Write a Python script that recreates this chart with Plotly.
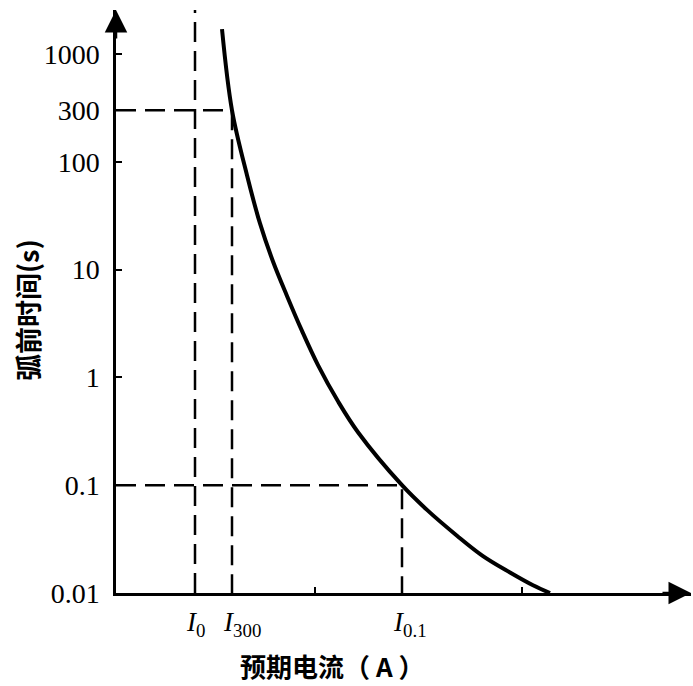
import plotly.graph_objects as go

# prospective current (arbitrary linear units) vs pre-arcing time (s)
current = [106, 116, 131, 144, 157, 171, 186, 202, 222, 242, 286, 311, 341, 367, 394, 417, 434]
prearc_time = [1700, 300, 75, 26.8, 11.9, 5.7, 2.7, 1.3, 0.6, 0.31, 0.1,
               0.059, 0.034, 0.022, 0.0155, 0.0118, 0.01]

# marked currents
I0 = 79
I300 = 116
I01 = 286
extra_ticks = [199, 406]

ytick_vals = [1000, 300, 100, 10, 1, 0.1, 0.01]
ytick_text = ["1000", "300", "100", "10", "1", "0.1", "0.01"]

X_MAX = 575
Y_LOG_MIN, Y_LOG_MAX = -2, 3.408

dash = "20px,9px"
fig = go.Figure()

# the time-current curve
fig.add_trace(go.Scatter(x=current, y=prearc_time, mode="lines",
                         line=dict(color="black", width=4, shape="spline", smoothing=1.0),
                         cliponaxis=False, hoverinfo="skip"))

# dashed guides
fig.add_trace(go.Scatter(x=[0, I300, I300], y=[300, 300, 0.01], mode="lines",
                         line=dict(color="black", width=2.5, dash=dash), hoverinfo="skip"))
fig.add_trace(go.Scatter(x=[0, I01, I01], y=[0.1, 0.1, 0.01], mode="lines",
                         line=dict(color="black", width=2.5, dash=dash), hoverinfo="skip"))
fig.add_shape(type="line", xref="x", yref="paper", x0=I0, x1=I0, y0=0, y1=1,
              line=dict(color="black", width=2.5, dash=dash))

# x labels I0, I300, I0.1
serif = "Liberation Serif"
for xv, sub in [(I0, "0"), (I300, "300"), (I01, "0.1")]:
    fig.add_annotation(x=xv, y=0, xref="x", yref="paper", xanchor="left", yanchor="top",
                       xshift=-11, yshift=-12, showarrow=False,
                       text="<i>I</i><sub>" + sub + "</sub>",
                       font=dict(family=serif, size=27, color="black"))

# axis arrows
fig.add_annotation(x=X_MAX, y=Y_LOG_MIN, xref="x", yref="y", ax=-30, ay=0, text="",
                   showarrow=True, arrowhead=2, arrowsize=1.8, arrowwidth=2.5,
                   arrowcolor="black", standoff=0)
fig.add_annotation(x=0, y=Y_LOG_MAX, xref="x", yref="y", ax=0, ay=30, text="",
                   showarrow=True, arrowhead=2, arrowsize=1.8, arrowwidth=2.5,
                   arrowcolor="black", standoff=0)

# axis titles
cjk = "Noto Sans CJK SC"
fig.add_annotation(x=-0.155, y=0.485, xref="paper", yref="paper", showarrow=False,
                   xanchor="center", yanchor="middle",
                   text="<b>弧前时间(s)</b>", textangle=-90,
                   font=dict(family=cjk, size=27, color="black"))
fig.add_annotation(x=0.3757, y=-0.1235, xref="paper", yref="paper", showarrow=False,
                   xanchor="center", yanchor="middle",
                   text="<b>预期电流（ A ）</b>",
                   font=dict(family=cjk, size=26, color="black"))

fig.update_layout(
    width=693, height=686,
    margin=dict(l=116, r=2, t=10, b=93),
    plot_bgcolor="white", paper_bgcolor="white",
    showlegend=False,
    xaxis=dict(range=[0, X_MAX], showgrid=False, zeroline=False,
               showline=True, linecolor="black", linewidth=2.5,
               tickvals=[I0, I300, extra_ticks[0], I01, extra_ticks[1]],
               ticktext=[""] * 5, ticks="inside", ticklen=6, tickwidth=2,
               tickcolor="black"),
    yaxis=dict(type="log", range=[Y_LOG_MIN, Y_LOG_MAX], showgrid=False, zeroline=False,
               showline=True, linecolor="black", linewidth=2.5,
               tickvals=ytick_vals, ticktext=ytick_text,
               ticks="inside", ticklen=6, tickwidth=2, tickcolor="black",
               ticklabelstandoff=8,
               tickfont=dict(family=serif, size=28, color="black")),
)

fig.write_html("out.html", config={"displayModeBar": False},
               post_script="document.body.style.margin='0';")
